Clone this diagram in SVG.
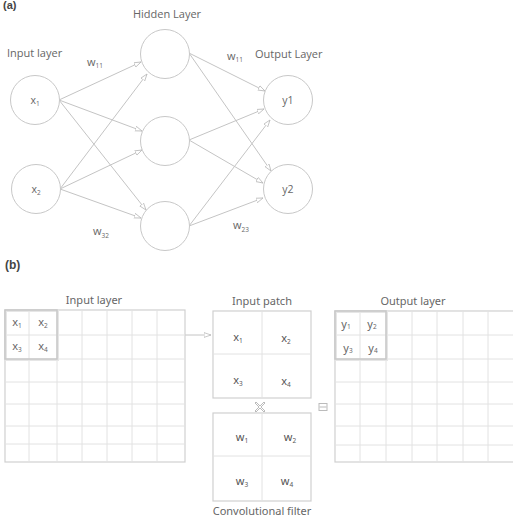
<svg xmlns="http://www.w3.org/2000/svg" width="513" height="518" viewBox="0 0 513 518">
<defs>
<marker id="ah" markerUnits="userSpaceOnUse" markerWidth="9" markerHeight="8" refX="7" refY="3" orient="auto">
<path d="M0,0.6 L7,3 L0,5.4 Z" fill="#fff" stroke="#bbb" stroke-width="0.8"/>
</marker>
<style>
.node{fill:#fff;stroke:#c8c8c8;stroke-width:1}
.lbl{font-family:"Open Sans","Liberation Sans",sans-serif;font-size:11px;fill:#666}
.nl{font-family:"Open Sans","Liberation Sans",sans-serif;font-size:10.5px;fill:#666;text-anchor:middle}
.sub{font-size:6.5px}
.gl{font-family:"Noto Sans","Liberation Sans",sans-serif;font-size:11px;fill:#666}
.cl{font-family:"Noto Sans","Liberation Sans",sans-serif;font-size:11px;fill:#555;text-anchor:middle}
.conn{stroke:#c4c4c4;stroke-width:1;fill:none;marker-end:url(#ah)}
.grid{stroke:#e2e2e2;stroke-width:1;fill:none}
.frame{stroke:#d0d0d0;stroke-width:1.2;fill:#fff}
.patch{stroke:#c8c8c8;stroke-width:1.5;fill:none}
</style>
</defs>
<rect width="513" height="518" fill="#fff"/>

<text x="3" y="9" style="font-family:'Liberation Sans',sans-serif;font-size:11px;font-weight:bold;fill:#444">(a)</text>
<text class="lbl" x="167" y="18" text-anchor="middle">Hidden Layer</text>
<text class="lbl" x="7" y="57">Input layer</text>
<text class="lbl" x="255" y="58">Output Layer</text>
<text class="lbl" x="87" y="66">w<tspan class="sub" dy="2">11</tspan></text>
<text class="lbl" x="227" y="60">w<tspan class="sub" dy="2">11</tspan></text>
<text class="lbl" x="93" y="235">w<tspan class="sub" dy="3">32</tspan></text>
<text class="lbl" x="233" y="229">w<tspan class="sub" dy="3">23</tspan></text>

<g id="connectors">
<line class="conn" x1="59" y1="100" x2="141" y2="62"/>
<line class="conn" x1="59" y1="100" x2="142" y2="131"/>
<line class="conn" x1="59" y1="100" x2="146" y2="210"/>
<line class="conn" x1="60" y1="189" x2="147" y2="74"/>
<line class="conn" x1="60" y1="189" x2="142" y2="150"/>
<line class="conn" x1="60" y1="189" x2="141" y2="218"/>
<line class="conn" x1="189" y1="53" x2="265" y2="91"/>
<line class="conn" x1="189" y1="53" x2="271" y2="171"/>
<line class="conn" x1="189" y1="140" x2="264" y2="109"/>
<line class="conn" x1="189" y1="140" x2="263" y2="183"/>
<line class="conn" x1="189" y1="226" x2="270" y2="120"/>
<line class="conn" x1="189" y1="226" x2="263" y2="198"/>
<line class="conn" x1="57" y1="335" x2="211" y2="335"/>
</g>

<g id="in1"><circle class="node" cx="35" cy="100" r="24.5"/><text class="nl" x="35" y="104">x<tspan class="sub" dy="2">1</tspan></text></g>
<g id="in2"><circle class="node" cx="36" cy="189" r="24.5"/><text class="nl" x="36" y="193">x<tspan class="sub" dy="2">2</tspan></text></g>
<g id="h1"><circle class="node" cx="165" cy="54" r="24.5"/></g>
<g id="h2"><circle class="node" cx="165" cy="141" r="24.5"/></g>
<g id="h3"><circle class="node" cx="165" cy="226" r="24.5"/></g>
<g id="out1"><circle class="node" cx="288" cy="100" r="24.5"/><text class="nl" x="288" y="104">y1</text></g>
<g id="out2"><circle class="node" cx="288" cy="189" r="24.5"/><text class="nl" x="288" y="193">y2</text></g>

<text x="5" y="269" style="font-family:'Liberation Sans',sans-serif;font-size:12px;font-weight:bold;fill:#444">(b)</text>

<g id="inputLayer">
<text class="gl" x="94" y="304" text-anchor="middle">Input layer</text>
<rect class="frame" x="5" y="310" width="180" height="152"/>
<path class="grid" d="M29,310V462M57,310V462M82,310V462M107,310V462M132,310V462M157,310V462M5,335H185M5,359H185M5,382H185M5,404H185M5,426H185M5,444H185"/>
<rect x="6" y="311" width="52" height="49" fill="none" stroke="#e6e6e6" stroke-width="2"/>
<rect class="patch" x="5" y="310" width="52" height="49"/>
<text class="gl" x="17" y="326" text-anchor="middle">x<tspan class="sub" dy="2">1</tspan></text>
<text class="gl" x="43" y="326" text-anchor="middle">x<tspan class="sub" dy="2">2</tspan></text>
<text class="gl" x="17" y="350" text-anchor="middle">x<tspan class="sub" dy="2">3</tspan></text>
<text class="gl" x="43" y="350" text-anchor="middle">x<tspan class="sub" dy="2">4</tspan></text>
</g>

<g id="inputPatch">
<text class="gl" x="262" y="305" text-anchor="middle">Input patch</text>
<rect class="frame" x="213" y="311" width="98" height="87"/>
<path class="grid" d="M262,311V398M213,354H311"/>
<text class="cl" x="238" y="341">x<tspan class="sub" dy="2">1</tspan></text>
<text class="cl" x="286" y="342">x<tspan class="sub" dy="2">2</tspan></text>
<text class="cl" x="238" y="384">x<tspan class="sub" dy="2">3</tspan></text>
<text class="cl" x="286" y="385">x<tspan class="sub" dy="2">4</tspan></text>
</g>

<g id="ops">
<path d="M256,402 L260,406 L264,402 L265,403 L261,407 L265,411 L264,412 L260,408 L256,412 L255,411 L259,407 L255,403 Z" fill="#fff" stroke="#bbb" stroke-width="1"/>
<rect x="319" y="403.5" width="8" height="7" fill="#fff" stroke="#bbb" stroke-width="1"/>
<line x1="319.5" y1="407" x2="326.5" y2="407" stroke="#bbb" stroke-width="1"/>
</g>

<g id="filter">
<rect class="frame" x="213" y="413" width="98" height="88"/>
<path class="grid" d="M262,413V501M213,456H311"/>
<text class="cl" x="242" y="441">w<tspan class="sub" dy="2">1</tspan></text>
<text class="cl" x="290" y="441">w<tspan class="sub" dy="2">2</tspan></text>
<text class="cl" x="242" y="485">w<tspan class="sub" dy="2">3</tspan></text>
<text class="cl" x="287" y="485">w<tspan class="sub" dy="2">4</tspan></text>
<text class="gl" x="262" y="515" text-anchor="middle">Convolutional filter</text>
</g>

<g id="outputLayer">
<text class="gl" x="413" y="305" text-anchor="middle">Output layer</text>
<rect class="frame" x="335" y="311" width="180" height="151"/>
<path class="grid" d="M360,311V462M386,311V462M412,311V462M437,311V462M463,311V462M488,311V462M335,335H513M335,359H513M335,382H513M335,404H513M335,426H513M335,445H513"/>
<rect x="336" y="312" width="51" height="48" fill="none" stroke="#e6e6e6" stroke-width="2"/>
<rect class="patch" x="335" y="311" width="51" height="48"/>
<text class="gl" x="346" y="328" text-anchor="middle">y<tspan class="sub" dy="1">1</tspan></text>
<text class="gl" x="372" y="328" text-anchor="middle">y<tspan class="sub" dy="1">2</tspan></text>
<text class="gl" x="348" y="352" text-anchor="middle">y<tspan class="sub" dy="1">3</tspan></text>
<text class="gl" x="373" y="352" text-anchor="middle">y<tspan class="sub" dy="1">4</tspan></text>
</g>
</svg>
